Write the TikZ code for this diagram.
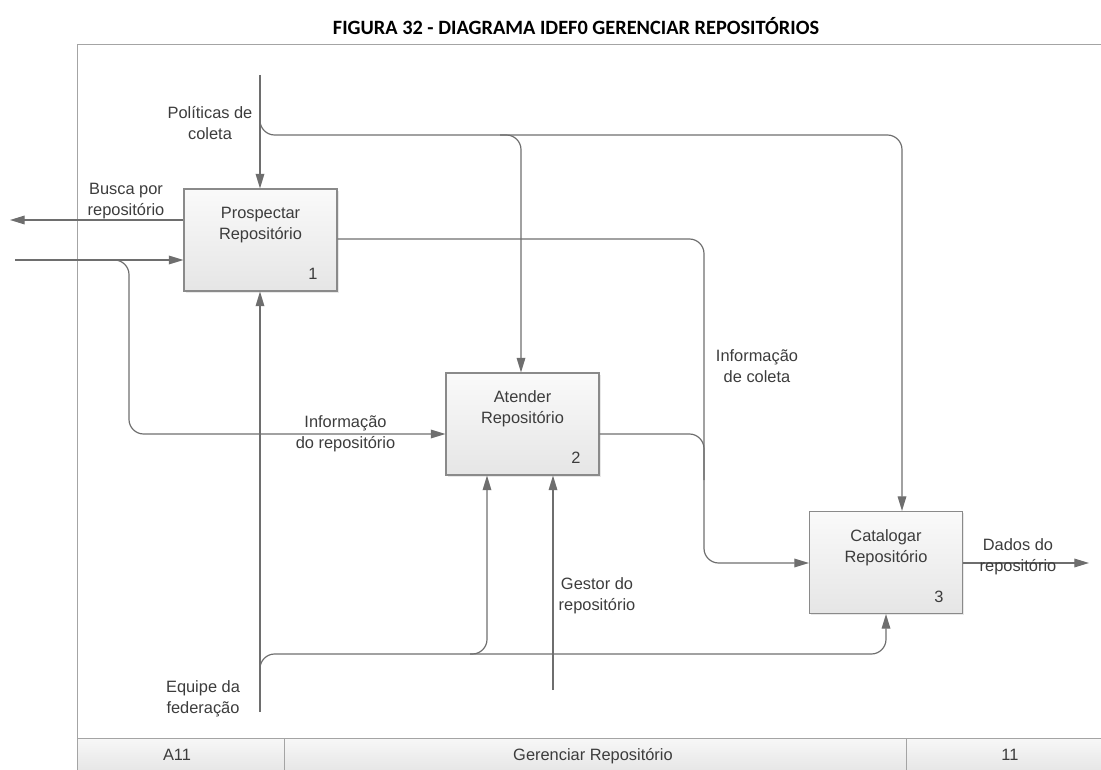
\documentclass[tikz,border=0pt]{standalone}
\usepackage{fontspec}
\setmainfont{Liberation Sans}
\newfontfamily\captionfont{Carlito}
\usetikzlibrary{arrows.meta,shadows,calc}

\definecolor{wire}{HTML}{6E6E6E}
\definecolor{ink}{HTML}{3C3C3C}
\definecolor{edge}{HTML}{8A8A8A}
\definecolor{framegray}{HTML}{A4A4A4}

\begin{document}
\begin{tikzpicture}[x=0.75pt,y=-0.75pt,
  flow/.style={draw=wire, line width=0.9pt, rounded corners=11pt},
  arr/.style={-{Triangle[length=11pt,width=6.5pt]}},
  act/.style={draw=edge, line width=0.8pt, top color=white!98!black,
    bottom color=white!90!black, minimum width=114.75pt,
    minimum height=76.5pt, inner sep=0pt,
    drop shadow={shadow xshift=1.2pt, shadow yshift=-1.2pt, opacity=0.18}},
  lbl/.style={text=ink, font=\fontsize{12.3}{15.5}\selectfont,
    align=center, inner sep=0pt},
  cell/.style={draw=framegray, line width=0.6pt, top color=white!97!black,
    bottom color=white!90!black},
]
\useasboundingbox (0,0) rectangle (1101,770);

% caption
\node[font=\captionfont\bfseries\fontsize{15.25}{18}\selectfont, text=black]
  (caption) at (576,26) {FIGURA 32 - DIAGRAMA IDEF0 GERENCIAR REPOSITÓRIOS};

% sheet frame
\draw[framegray, line width=0.7pt] (1101,44) -- (77,44) -- (77,770);

% footer
\draw[cell] (77,738) rectangle (1101,772);
\draw[framegray, line width=0.6pt] (284,738) -- (284,770) (906,738) -- (906,770);
\node[lbl, anchor=base] (fnode) at (177,760) {A11};
\node[lbl, anchor=base] (ftitle) at (593,760) {Gerenciar Repositório};
\node[lbl, anchor=base] (fnum) at (1010,760) {11};

% activity boxes
\node[act] (b1) at (260.5,240) {};
\node[act] (b2) at (522.5,424) {};
\node[act] (b3) at (886,562.5) {};

\node[lbl] (t1) at (260.5,225) {Prospectar\\Repositório};
\node[lbl] (n1) at (313,274) {1};
\node[lbl] (t2) at (522.5,408.5) {Atender\\Repositório};
\node[lbl] (n2) at (576,458) {2};
\node[lbl] (t3) at (886,548) {Catalogar\\Repositório};
\node[lbl] (n3) at (939,597) {3};

% free ends of the boundary arrows
\coordinate (pol) at (260,75);
\coordinate (busca) at (10,220);
\coordinate (inp) at (15,260);
\coordinate (eq) at (260,712);
\coordinate (gest) at (553,690);
\coordinate (dados) at (1089,563);

% control: Politicas de coleta
\draw[flow,arr] (pol) -- (pol |- b1.north);
\draw[flow,arr] (260,100) -- (260,135) -- (521,135) -- (521,0 |- b2.north);
\draw[flow,arr] (500,135) -- (902,135) -- (902,0 |- b3.north);

% output of box 1 to the left
\draw[flow,arr] (b1.west |- busca) -- (busca);

% input and its branch to box 2
\draw[flow,arr] (inp) -- (inp -| b1.west);
\draw[flow,arr] (88,260) -- (129,260) -- (129,434) -- (b2.west |- 0,434);

% mechanism: Equipe da federacao
\draw[flow,arr] (eq) -- (eq |- b1.south);
\draw[flow,arr] (260,690) -- (260,654) -- (487,654) -- (487,0 |- b2.south);
\draw[flow,arr] (470,654) -- (886,654) -- (886,0 |- b3.south);

% mechanism: Gestor do repositorio
\draw[flow,arr] (gest) -- (gest |- b2.south);

% Informacao de coleta
\draw[flow,arr] (b1.east |- 0,239) -- (704,239) -- (704,563) -- (b3.west |- 0,563);
\draw[flow] (b2.east |- 0,434) -- (704,434) -- (704,480);

% output of box 3
\draw[flow,arr] (b3.east |- dados) -- (dados);

% arrow labels
\node[lbl] (lpol) at (210,123) {Políticas de\\coleta};
\node[lbl] (lbusca) at (126,201) {Busca por\\repositório};
\node[lbl] (linfrep) at (345.5,434) {Informação\\do repositório};
\node[lbl] (linfcol) at (757,366) {Informação\\de coleta};
\node[lbl] (lgest) at (597,596) {Gestor do\\repositório};
\node[lbl] (leq) at (203,699) {Equipe da\\federação};
\node[lbl] (ldados) at (1018,557) {Dados do\\repositório};
\end{tikzpicture}
\end{document}
